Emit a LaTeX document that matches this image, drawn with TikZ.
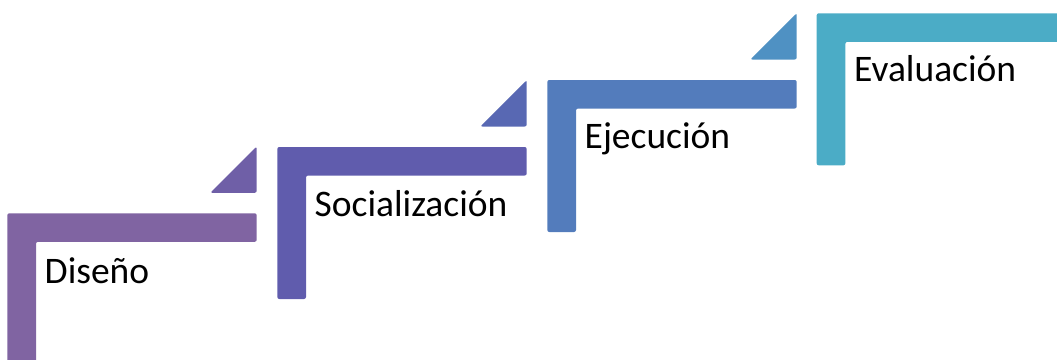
\documentclass[tikz,border=0pt]{standalone}
\usepackage{fontspec}
\setmainfont{Carlito}
\definecolor{cA}{HTML}{8064A2}
\definecolor{tA}{HTML}{6F5FA7}
\definecolor{cB}{HTML}{605CAD}
\definecolor{tB}{HTML}{5868B3}
\definecolor{cC}{HTML}{537CBC}
\definecolor{tC}{HTML}{4F91C3}
\definecolor{cD}{HTML}{4BACC6}
\tikzset{
  stepshape/.style={rounded corners=2pt},
  steplabel/.style={anchor=base west, inner sep=0pt, font=\fontsize{37.5}{44}\selectfont, text=black},
}
\newcommand{\stepL}[4]{% x0, y0, colour, right end
  \fill[stepshape,#3] (#1,#2) -- (#4,#2) -- (#4,#2+28.5) -- (#1+28.7,#2+28.5) -- (#1+28.7,#2+152) -- (#1,#2+152) -- cycle;}
\newcommand{\stepT}[3]{% x0, y0, colour
  \fill[stepshape,#3] (#1+203,#2-20.5) -- (#1+249.4,#2-20.5) -- (#1+249.4,#2-66.8) -- cycle;}
\begin{document}
\begin{tikzpicture}[x=1pt,y=-1pt]
\useasboundingbox (0,0) rectangle (1057,359);
\clip (0,0) rectangle (1057,359);
\stepL{7.3}{213.3}{cA}{256.7}
\stepT{7.3}{213.3}{tA}
\stepL{277.3}{147}{cB}{526.7}
\stepT{277.3}{147}{tB}
\stepL{547.3}{80}{cC}{796.7}
\stepT{547.3}{80}{tC}
\stepL{816.7}{13.3}{cD}{1070}
\node[steplabel] (diseno) at (44.5,283) {Diseño};
\node[steplabel] (socializacion) at (314.5,216.5) {Socialización};
\node[steplabel] (ejecucion) at (584.5,148.5) {Ejecución};
\node[steplabel] (evaluacion) at (854,81.7) {Evaluación};
\end{tikzpicture}
\end{document}
